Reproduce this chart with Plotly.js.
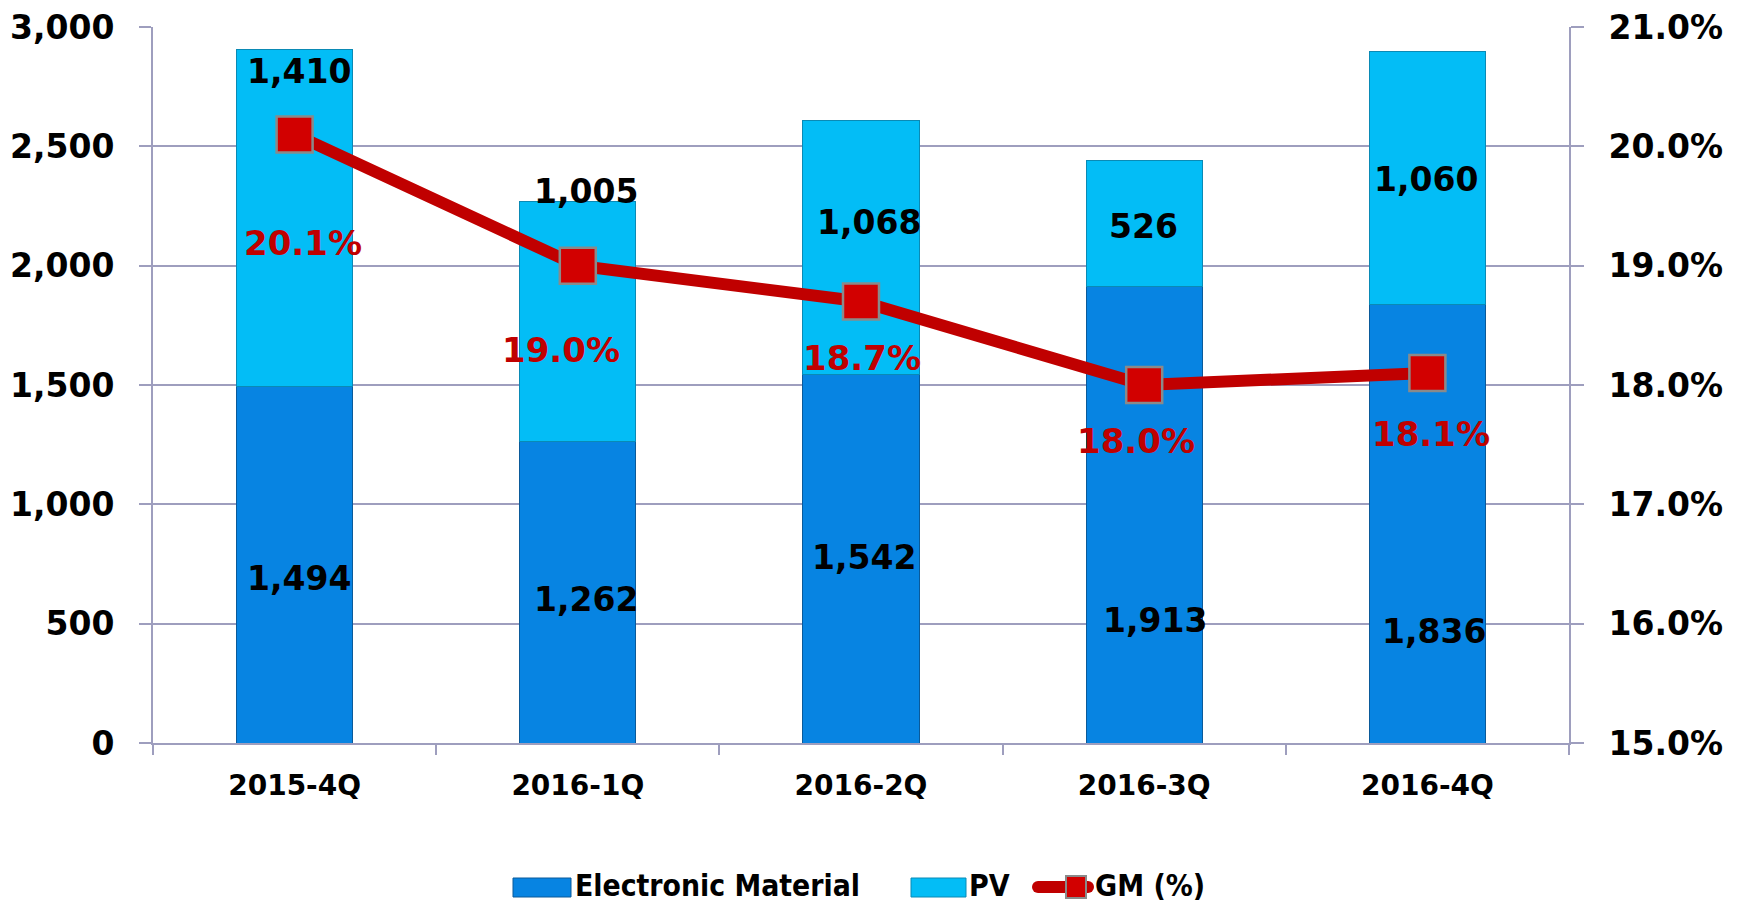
<!DOCTYPE html>
<html>
<head>
<meta charset="utf-8">
<script src="https://cdn.plot.ly/plotly-3.0.1.min.js"></script>
<style>html,body{margin:0;padding:0;background:#fff;}#chart{width:1737px;height:905px;}</style>
</head>
<body>
<div id="chart"></div>
<script>
// ---- data ----
var categories = ['2015-4Q', '2016-1Q', '2016-2Q', '2016-3Q', '2016-4Q'];
var electronicMaterial = [1494, 1262, 1542, 1913, 1836];
var pv = [1410, 1005, 1068, 526, 1060];
var gm = [20.1, 19.0, 18.7, 18.0, 18.1];
var leftTicks = [0, 500, 1000, 1500, 2000, 2500, 3000];
var rightTicks = [15, 16, 17, 18, 19, 20, 21];
var rightTickText = ['15.0%', '16.0%', '17.0%', '18.0%', '19.0%', '20.0%', '21.0%'];
var seriesNames = ['Electronic Material', 'PV', 'GM (%)'];

// ---- label nudges (pixels, styling only) ----
var emShift = [[4,-14],[8,-7],[3,1],[11,-106],[7,-108]];
var pvShift = [[4,147],[8,130],[8,25],[-1,-3],[-1,-1]];
var gmShift = [[8,-109],[-17,-84],[1,-57],[-8,-56],[4,-61]];

var C_EM = '#0784E2', C_PV = '#03BDF6', C_RED = '#C00000', GRID = '#9E9EBE';
var FONT = 'DejaVu Sans, Verdana, sans-serif';
var NARROW = 'DejaVu Sans Condensed, Liberation Sans Narrow, sans-serif';

var L = 153, R = 1569, T = 27, B = 743;
function px(x){ return (x - L) / (R - L); }
function py(y){ return (B - y) / (B - T); }

var traces = [
  { type: 'bar', name: seriesNames[0], x: categories, y: electronicMaterial,
    marker: { color: C_EM, line: { color: '#0A5A9A', width: 1 } }, hoverinfo: 'none' },
  { type: 'bar', name: seriesNames[1], x: categories, y: pv,
    marker: { color: C_PV, line: { color: '#0A8AB5', width: 1 } }, hoverinfo: 'none' },
  { type: 'scatter', mode: 'lines+markers', name: seriesNames[2], x: categories, y: gm, yaxis: 'y2',
    line: { color: C_RED, width: 12 },
    marker: { symbol: 'square', size: 36, color: '#D20000', line: { color: '#8A8A8A', width: 2.5 } },
    hoverinfo: 'none' }
];

var annotations = [];
var fmt = function(v){ return v.toLocaleString('en-US'); };
categories.forEach(function(c, i){
  annotations.push({ x: c, y: electronicMaterial[i] / 2, xref: 'x', yref: 'y', text: fmt(electronicMaterial[i]),
    showarrow: false, xshift: emShift[i][0], yshift: emShift[i][1],
    font: { family: FONT, size: 33, color: '#000', weight: 'bold' } });
  annotations.push({ x: c, y: electronicMaterial[i] + pv[i] / 2, xref: 'x', yref: 'y', text: fmt(pv[i]),
    showarrow: false, xshift: pvShift[i][0], yshift: pvShift[i][1],
    font: { family: FONT, size: 33, color: '#000', weight: 'bold' } });
  annotations.push({ x: c, y: gm[i], xref: 'x', yref: 'y2', text: gm[i].toFixed(1) + '%',
    showarrow: false, xshift: gmShift[i][0], yshift: gmShift[i][1],
    font: { family: FONT, size: 34, color: C_RED, weight: 'bold' } });
});

// ---- manual legend ----
var shapes = [];
function rectShape(x0, y0, x1, y1, fill, line, lw){
  shapes.push({ type: 'rect', xref: 'paper', yref: 'paper', x0: px(x0), x1: px(x1), y0: py(y1), y1: py(y0),
    fillcolor: fill, line: { color: line, width: lw } });
}
var LY = 887;
rectShape(513, LY - 9, 571, LY + 10, C_EM, '#0A5A9A', 1);
rectShape(911, LY - 9, 966, LY + 10, C_PV, '#0A8AB5', 1);
shapes.push({ type: 'line', xref: 'paper', yref: 'paper', x0: px(1038), x1: px(1088), y0: py(LY), y1: py(LY),
  line: { color: C_RED, width: 12 } });
shapes.push({ type: 'circle', xref: 'paper', yref: 'paper', x0: px(1032), x1: px(1044), y0: py(LY + 6), y1: py(LY - 6),
  fillcolor: C_RED, line: { width: 0 } });
shapes.push({ type: 'circle', xref: 'paper', yref: 'paper', x0: px(1082), x1: px(1094), y0: py(LY + 6), y1: py(LY - 6),
  fillcolor: C_RED, line: { width: 0 } });
rectShape(1066, LY - 11, 1086, LY + 11, '#D20000', '#8A8A8A', 2);
var legendLabels = [[574, seriesNames[0], 285], [968, seriesNames[1], 44], [1094, seriesNames[2], 142]];
legendLabels.forEach(function(l){
  annotations.push({ x: px(l[0]), y: py(LY - 2), xref: 'paper', yref: 'paper', xanchor: 'left', yanchor: 'middle',
    align: 'left', borderpad: 0, text: l[1], showarrow: false,
    font: { family: NARROW, size: 30, color: '#000', weight: 'bold' } });
});

var layout = {
  width: 1737, height: 905,
  margin: { l: L, r: 1737 - R, t: T, b: 905 - B },
  paper_bgcolor: '#fff', plot_bgcolor: '#fff',
  barmode: 'stack', bargap: 0.59,
  showlegend: false,
  xaxis: { type: 'category', showline: true, linecolor: GRID, linewidth: 2, ticks: 'outside', tickson: 'boundaries',
    ticklen: 10, tickcolor: GRID, tickwidth: 2, showgrid: false, ticklabelstandoff: 16,
    tickfont: { family: FONT, size: 28, color: '#000', weight: 'bold' } },
  yaxis: { range: [0, 3000], tickvals: leftTicks, tickformat: ',', showline: true, linecolor: GRID, linewidth: 2,
    ticks: 'outside', ticklen: 12, tickcolor: GRID, tickwidth: 2, showgrid: true, gridcolor: GRID, gridwidth: 2,
    zeroline: false, ticklabelstandoff: 18,
    tickfont: { family: FONT, size: 33, color: '#000', weight: 'bold' } },
  yaxis2: { range: [15, 21], tickvals: rightTicks, ticktext: rightTickText, overlaying: 'y', side: 'right',
    showline: true, linecolor: GRID, linewidth: 2, ticks: 'outside', ticklen: 13, tickcolor: GRID, tickwidth: 2,
    showgrid: false, zeroline: false, ticklabelstandoff: 18,
    tickfont: { family: FONT, size: 33, color: '#000', weight: 'bold' } },
  annotations: annotations,
  shapes: shapes
};

Plotly.newPlot('chart', traces, layout, { staticPlot: true, displayModeBar: false }).then(function(gd){
  // condense the legend labels horizontally to the original narrow face's widths
  var widths = {};
  legendLabels.forEach(function(l){ widths[l[1]] = l[2]; });
  gd.querySelectorAll('.annotation').forEach(function(a){
    var t = a.querySelector('text');
    if (!t || !widths[t.textContent]) return;
    var bb = t.getBBox();
    var k = Math.min(1, widths[t.textContent] / bb.width);
    var x0 = bb.x;
    t.setAttribute('transform', 'translate(' + x0 + ',0) scale(' + k + ',1) translate(' + (-x0) + ',0)');
  });
});
</script>
</body>
</html>
